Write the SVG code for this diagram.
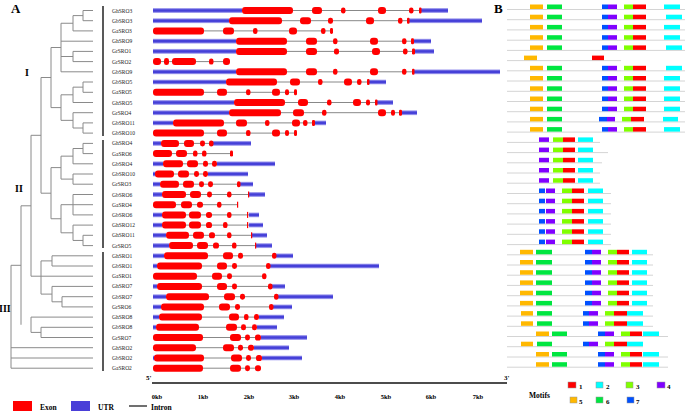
<svg xmlns="http://www.w3.org/2000/svg" width="685" height="413" viewBox="0 0 685 413">
<style>
.t{fill:none;stroke:#8a8a8a;stroke-width:1}
.bar{stroke:#222;stroke-width:1.5}
.lb{font-family:"Liberation Serif",serif;font-size:5.5px;fill:#222}
.hd{font-family:"Liberation Serif",serif;font-weight:bold;fill:#000}
.i{stroke:#888;stroke-width:1}
.u{fill:url(#ug)}
.e{fill:#ff0000}
.ml{stroke:#d4d4d4;stroke-width:1}
.m1{fill:#ff0000}.m2{fill:#00ffff}.m3{fill:#80ff00}.m4{fill:#8000ff}.m5{fill:#ffb800}.m6{fill:#00e640}.m7{fill:#0050ff}
</style>
<defs>
<linearGradient id="ug" x1="0" y1="0" x2="0" y2="1">
<stop offset="0" stop-color="#c4c1f6"/><stop offset="0.35" stop-color="#4540d8"/><stop offset="0.65" stop-color="#4540d8"/><stop offset="1" stop-color="#c4c1f6"/>
</linearGradient>
</defs>
<rect width="685" height="413" fill="#fff"/>
<text class="hd" x="11" y="13" font-size="13">A</text>
<text class="hd" x="494" y="13" font-size="13">B</text>
<text class="hd" x="25" y="76" font-size="10">I</text>
<text class="hd" x="15" y="192" font-size="10">II</text>
<text class="hd" x="-1" y="312" font-size="10">III</text>
<g id="tree">
<path class="t" d="M83,10.5H93M83,20.7H93M83,10.5V20.7M73,15.6H83M73,30.9H93M73,15.6V30.9M61,23.25H73M61,41.2H93M73,51.4H93M73,61.6H93M73,51.4V61.6M61,56.5H73M61,71.8H93M61,23.25V71.8M51,47.5H61
M83,82H93M83,92.3H93M83,82V92.3M73,87.15H83M73,102.5H93M73,87.15V102.5M61,94.8H73M73,112.7H93M83,122.9H93M83,133.1H93M83,122.9V133.1M73,128H83M73,112.7V128M61,120.35H73M61,94.8V120.35M51,107.6H61M51,47.5V107.6M41,77.5H51
M83,143.4H93M83,153.6H93M83,143.4V153.6M73,148.5H83M73,163.8H93M73,148.5V163.8M61,156.15H73M73,174H93M73,184.2H93M73,174V184.2M61,179.1H73M61,156.15V179.1M51,167.6H61
M73,194.5H93M61,204.7H93M73,214.9H93M73,194.5V214.9M73,225.1H93M83,235.3H93M83,245.6H93M83,235.3V245.6M73,240.45H83M73,225.1V240.45M61,232.8H73M61,204.7V232.8M51,218.75H61M51,167.6V218.75M41,193.2H51M41,77.5V193.2M31,135.3H41
M52,255.8H93M52,266H93M52,255.8V266M41,260.9H52M31,276.2H93M52,286.4H93M62,296.7H93M62,306.9H93M62,296.7V306.9M52,301.8H62M52,286.4V301.8M41,294.1H52M41,260.9V294.1M31,135.3V276.2M21,205.8H31
M31,317.1H93M41,327.3H93M41,337.5H93M41,327.3V337.5M31,332.4H41M31,317.1V332.4M21,205.8V324.75M11,265.3H21M11,347.7H93M11,358H93M11,368.2H93M11,265.3V368.2"/>
<line class="bar" x1="103" y1="6" x2="103" y2="136"/>
<line class="bar" x1="103" y1="140" x2="103" y2="248"/>
<line class="bar" x1="103" y1="252" x2="103" y2="371"/>
</g>
<g id="labels">
<text class="lb" x="112" y="12.5">GhSRO3</text>
<text class="lb" x="112" y="22.7">GbSRO3</text>
<text class="lb" x="112" y="32.9">GaSRO3</text>
<text class="lb" x="112" y="43.2">GhSRO9</text>
<text class="lb" x="112" y="53.4">GrSRO1</text>
<text class="lb" x="112" y="63.6">GrSRO2</text>
<text class="lb" x="112" y="73.8">GbSRO9</text>
<text class="lb" x="112" y="84">GbSRO5</text>
<text class="lb" x="112" y="94.3">GaSRO5</text>
<text class="lb" x="112" y="104.5">GhSRO5</text>
<text class="lb" x="112" y="114.7">GrSRO4</text>
<text class="lb" x="112" y="124.9">GbSRO11</text>
<text class="lb" x="112" y="135.1">GbSRO10</text>
<text class="lb" x="112" y="145.4">GhSRO4</text>
<text class="lb" x="112" y="155.6">GaSRO6</text>
<text class="lb" x="112" y="165.8">GbSRO4</text>
<text class="lb" x="112" y="176">GbSRO10</text>
<text class="lb" x="112" y="186.2">GrSRO3</text>
<text class="lb" x="112" y="196.5">GbSRO6</text>
<text class="lb" x="112" y="206.7">GaSRO4</text>
<text class="lb" x="112" y="216.9">GbSRO6</text>
<text class="lb" x="112" y="227.1">GhSRO12</text>
<text class="lb" x="112" y="237.3">GhSRO11</text>
<text class="lb" x="112" y="247.6">GrSRO5</text>
<text class="lb" x="112" y="257.8">GhSRO1</text>
<text class="lb" x="112" y="268">GbSRO1</text>
<text class="lb" x="112" y="278.2">GaSRO1</text>
<text class="lb" x="112" y="288.4">GhSRO7</text>
<text class="lb" x="112" y="298.7">GbSRO7</text>
<text class="lb" x="112" y="308.9">GrSRO6</text>
<text class="lb" x="112" y="319.1">GhSRO8</text>
<text class="lb" x="112" y="329.3">GbSRO8</text>
<text class="lb" x="112" y="339.5">GrSRO7</text>
<text class="lb" x="112" y="349.7">GhSRO2</text>
<text class="lb" x="112" y="360">GbSRO2</text>
<text class="lb" x="112" y="370.2">GaSRO2</text>
</g>
<g id="genes">
<g transform="translate(0,10.5)"><line class="i" x1="153" x2="448"/><rect class="u" x="153" y="-2.5" width="89" height="5"/><rect class="u" x="421" y="-2.5" width="27" height="5"/><rect class="e" x="242" y="-3.5" width="51" height="7" rx="3"/><rect class="e" x="312" y="-3.5" width="10" height="7" rx="3"/><rect class="e" x="341" y="-3" width="4.5" height="6" rx="2.2"/><rect class="e" x="378" y="-3.5" width="8" height="7" rx="3"/><rect class="e" x="409" y="-3" width="4.5" height="6" rx="2.2"/><rect class="e" x="419" y="-3" width="2.5" height="6" rx="1"/></g>
<g transform="translate(0,20.7)"><line class="i" x1="153" x2="482"/><rect class="u" x="153" y="-2.5" width="76" height="5"/><rect class="u" x="409" y="-2.5" width="73" height="5"/><rect class="e" x="229" y="-3.5" width="53" height="7" rx="3"/><rect class="e" x="300" y="-3.5" width="11" height="7" rx="3"/><rect class="e" x="328" y="-3" width="5" height="6" rx="2.2"/><rect class="e" x="366" y="-3.5" width="8" height="7" rx="3"/><rect class="e" x="398" y="-3" width="4.5" height="6" rx="2.2"/><rect class="e" x="407" y="-3" width="2.5" height="6" rx="1"/></g>
<g transform="translate(0,30.9)"><line class="i" x1="153" x2="333"/><rect class="e" x="153" y="-3.5" width="51" height="7" rx="3"/><rect class="e" x="223" y="-3.5" width="11" height="7" rx="3"/><rect class="e" x="253" y="-3" width="4.5" height="6" rx="2.2"/><rect class="e" x="289" y="-3.5" width="8" height="7" rx="3"/><rect class="e" x="321" y="-3" width="4.5" height="6" rx="2.2"/><rect class="e" x="330" y="-3" width="3" height="6" rx="1.4"/></g>
<g transform="translate(0,41.2)"><line class="i" x1="153" x2="431"/><rect class="u" x="153" y="-2.5" width="83" height="5"/><rect class="u" x="414" y="-2.5" width="17" height="5"/><rect class="e" x="236" y="-3.5" width="51" height="7" rx="3"/><rect class="e" x="306" y="-3.5" width="11" height="7" rx="3"/><rect class="e" x="333" y="-3" width="4.5" height="6" rx="2.2"/><rect class="e" x="370" y="-3.5" width="8" height="7" rx="3"/><rect class="e" x="402" y="-3" width="4.5" height="6" rx="2.2"/><rect class="e" x="411" y="-3" width="3" height="6" rx="1.2"/></g>
<g transform="translate(0,51.4)"><line class="i" x1="153" x2="434" stroke="#bbb"/><rect class="u" x="153" y="-2.5" width="83" height="5"/><rect class="u" x="415" y="-2.5" width="19" height="5"/><rect class="e" x="236" y="-3.5" width="51" height="7" rx="3"/><rect class="e" x="306" y="-3.5" width="11" height="7" rx="3"/><rect class="e" x="334" y="-3" width="5" height="6" rx="2.2"/><rect class="e" x="372" y="-3.5" width="8" height="7" rx="3"/><rect class="e" x="403" y="-3" width="4.5" height="6" rx="2.2"/><rect class="e" x="412" y="-3" width="3" height="6" rx="1.2"/></g>
<g transform="translate(0,61.6)"><line class="i" x1="153" x2="230"/><rect class="e" x="153" y="-3.5" width="8" height="7" rx="3"/><rect class="e" x="164" y="-3.5" width="5" height="7" rx="2.4"/><rect class="e" x="172" y="-3.5" width="24" height="7" rx="3"/><rect class="e" x="209" y="-3" width="4.5" height="6" rx="2.2"/><rect class="e" x="223" y="-3.5" width="7" height="7" rx="3"/></g>
<g transform="translate(0,71.8)"><line class="i" x1="153" x2="500"/><rect class="u" x="153" y="-2.5" width="83" height="5"/><rect class="u" x="414" y="-2.5" width="86" height="5"/><rect class="e" x="236" y="-3.5" width="51" height="7" rx="3"/><rect class="e" x="306" y="-3.5" width="11" height="7" rx="3"/><rect class="e" x="333" y="-3" width="4.5" height="6" rx="2.2"/><rect class="e" x="370" y="-3.5" width="8" height="7" rx="3"/><rect class="e" x="402" y="-3" width="4.5" height="6" rx="2.2"/><rect class="e" x="412" y="-3" width="2.5" height="6" rx="1"/></g>
<g transform="translate(0,82)"><line class="i" x1="153" x2="386"/><rect class="u" x="153" y="-2.5" width="73" height="5"/><rect class="u" x="369" y="-2.5" width="17" height="5"/><rect class="e" x="226" y="-3.5" width="51" height="7" rx="3"/><rect class="e" x="290" y="-3.5" width="10" height="7" rx="3"/><rect class="e" x="318" y="-3" width="4.5" height="6" rx="2.2"/><rect class="e" x="344" y="-3.5" width="8" height="7" rx="3"/><rect class="e" x="357" y="-3" width="4.5" height="6" rx="2.2"/><rect class="e" x="367" y="-3" width="2.5" height="6" rx="1"/></g>
<g transform="translate(0,92.3)"><line class="i" x1="153" x2="296" stroke="#bbb"/><rect class="e" x="153" y="-3.5" width="51" height="7" rx="3"/><rect class="e" x="217" y="-3.5" width="10" height="7" rx="3"/><rect class="e" x="246" y="-3" width="4.5" height="6" rx="2.2"/><rect class="e" x="272" y="-3.5" width="8" height="7" rx="3"/><rect class="e" x="285" y="-3" width="4" height="6" rx="2"/><rect class="e" x="294" y="-3" width="3" height="6" rx="1.4"/></g>
<g transform="translate(0,102.5)"><line class="i" x1="153" x2="393" stroke="#bbb"/><rect class="u" x="153" y="-2.5" width="81" height="5"/><rect class="u" x="377" y="-2.5" width="16" height="5"/><rect class="e" x="234" y="-3.5" width="51" height="7" rx="3"/><rect class="e" x="298" y="-3.5" width="10" height="7" rx="3"/><rect class="e" x="327" y="-3" width="4.5" height="6" rx="2.2"/><rect class="e" x="353" y="-3.5" width="8" height="7" rx="3"/><rect class="e" x="366" y="-3" width="4" height="6" rx="2"/><rect class="e" x="375" y="-3" width="2.5" height="6" rx="1"/></g>
<g transform="translate(0,112.7)"><line class="i" x1="153" x2="417"/><rect class="u" x="153" y="-2.5" width="76" height="5"/><rect class="u" x="402" y="-2.5" width="15" height="5"/><rect class="e" x="229" y="-3.5" width="52" height="7" rx="3"/><rect class="e" x="293" y="-3.5" width="11" height="7" rx="3"/><rect class="e" x="322" y="-3" width="4.5" height="6" rx="2.2"/><rect class="e" x="378" y="-3.5" width="8" height="7" rx="3"/><rect class="e" x="391" y="-3" width="4" height="6" rx="2"/><rect class="e" x="399" y="-3" width="3" height="6" rx="1.2"/></g>
<g transform="translate(0,122.9)"><line class="i" x1="153" x2="326"/><rect class="u" x="153" y="-2.5" width="20" height="5"/><rect class="u" x="315" y="-2.5" width="11" height="5"/><rect class="e" x="173" y="-3.5" width="51" height="7" rx="3"/><rect class="e" x="236" y="-3.5" width="11" height="7" rx="3"/><rect class="e" x="265" y="-3" width="4.5" height="6" rx="2.2"/><rect class="e" x="292" y="-3.5" width="8" height="7" rx="3"/><rect class="e" x="303" y="-3" width="4.5" height="6" rx="2.2"/><rect class="e" x="312" y="-3" width="3" height="6" rx="1.2"/></g>
<g transform="translate(0,133.1)"><line class="i" x1="153" x2="296" stroke="#bbb"/><rect class="e" x="153" y="-3.5" width="51" height="7" rx="3"/><rect class="e" x="217" y="-3.5" width="10" height="7" rx="3"/><rect class="e" x="246" y="-3" width="4.5" height="6" rx="2.2"/><rect class="e" x="272" y="-3.5" width="8" height="7" rx="3"/><rect class="e" x="285" y="-3" width="4" height="6" rx="2"/><rect class="e" x="294" y="-3" width="3" height="6" rx="1.4"/></g>
<g transform="translate(0,143.4)"><line class="i" x1="153" x2="251"/><rect class="u" x="153" y="-2.5" width="8" height="5"/><rect class="u" x="213" y="-2.5" width="38" height="5"/><rect class="e" x="161" y="-3.5" width="18" height="7" rx="3"/><rect class="e" x="184" y="-3.5" width="10" height="7" rx="3"/><rect class="e" x="200" y="-3" width="5" height="6" rx="2.4"/><rect class="e" x="209" y="-3" width="4.5" height="6" rx="2.2"/></g>
<g transform="translate(0,153.6)"><line class="i" x1="153" x2="233" stroke="#bbb"/><rect class="e" x="153" y="-3.5" width="19" height="7" rx="3"/><rect class="e" x="176" y="-3.5" width="11" height="7" rx="3"/><rect class="e" x="193" y="-3" width="4.5" height="6" rx="2.2"/><rect class="e" x="202" y="-3" width="4.5" height="6" rx="2.2"/><rect class="e" x="230" y="-3" width="3" height="6" rx="1.4"/></g>
<g transform="translate(0,163.8)"><line class="i" x1="153" x2="275"/><rect class="u" x="153" y="-2.5" width="10" height="5"/><rect class="u" x="217" y="-2.5" width="58" height="5"/><rect class="e" x="163" y="-3.5" width="20" height="7" rx="3"/><rect class="e" x="187" y="-3.5" width="11" height="7" rx="3"/><rect class="e" x="203" y="-3" width="5" height="6" rx="2.4"/><rect class="e" x="212" y="-3" width="5" height="6" rx="2.4"/></g>
<g transform="translate(0,174)"><line class="i" x1="153" x2="248"/><rect class="u" x="153" y="-2.5" width="3" height="5"/><rect class="u" x="208" y="-2.5" width="40" height="5"/><rect class="e" x="155" y="-3.5" width="19" height="7" rx="3"/><rect class="e" x="178" y="-3.5" width="11" height="7" rx="3"/><rect class="e" x="194" y="-3" width="5" height="6" rx="2.4"/><rect class="e" x="203" y="-3" width="5" height="6" rx="2.4"/></g>
<g transform="translate(0,184.2)"><line class="i" x1="153" x2="253"/><rect class="u" x="153" y="-2.5" width="7" height="5"/><rect class="u" x="240" y="-2.5" width="13" height="5"/><rect class="e" x="160" y="-3.5" width="19" height="7" rx="3"/><rect class="e" x="183" y="-3.5" width="11" height="7" rx="3"/><rect class="e" x="199" y="-3" width="5" height="6" rx="2.4"/><rect class="e" x="208" y="-3" width="5" height="6" rx="2.4"/><rect class="e" x="237" y="-3" width="3.5" height="6" rx="1.6"/></g>
<g transform="translate(0,194.5)"><line class="i" x1="153" x2="265"/><rect class="u" x="153" y="-2.5" width="9" height="5"/><rect class="u" x="249" y="-2.5" width="16" height="5"/><rect class="e" x="162" y="-3.5" width="24" height="7" rx="3"/><rect class="e" x="190" y="-3.5" width="11" height="7" rx="3"/><rect class="e" x="207" y="-3" width="5" height="6" rx="2.4"/><rect class="e" x="227" y="-3" width="4.5" height="6" rx="2.2"/><rect class="e" x="248" y="-3" width="1.2" height="6"/></g>
<g transform="translate(0,204.7)"><line class="i" x1="153" x2="238" stroke="#bbb"/><rect class="e" x="153" y="-3.5" width="23" height="7" rx="3"/><rect class="e" x="181" y="-3.5" width="11" height="7" rx="3"/><rect class="e" x="197" y="-3" width="6" height="6" rx="2.6"/><rect class="e" x="217" y="-3" width="4.5" height="6" rx="2.2"/><rect class="e" x="237" y="-3" width="1.2" height="6"/></g>
<g transform="translate(0,214.9)"><line class="i" x1="153" x2="259"/><rect class="u" x="153" y="-2.5" width="9" height="5"/><rect class="u" x="249" y="-2.5" width="10" height="5"/><rect class="e" x="162" y="-3.5" width="24" height="7" rx="3"/><rect class="e" x="189" y="-3.5" width="12" height="7" rx="3"/><rect class="e" x="206" y="-3" width="6" height="6" rx="2.6"/><rect class="e" x="227" y="-3" width="4.5" height="6" rx="2.2"/><rect class="e" x="247" y="-3" width="1.2" height="6"/></g>
<g transform="translate(0,225.1)"><line class="i" x1="153" x2="263"/><rect class="u" x="153" y="-2.5" width="9" height="5"/><rect class="u" x="249" y="-2.5" width="14" height="5"/><rect class="e" x="162" y="-3.5" width="24" height="7" rx="3"/><rect class="e" x="189" y="-3.5" width="12" height="7" rx="3"/><rect class="e" x="206" y="-3" width="6" height="6" rx="2.6"/><rect class="e" x="223" y="-3" width="4.5" height="6" rx="2.2"/><rect class="e" x="247" y="-3" width="1.2" height="6"/></g>
<g transform="translate(0,235.3)"><line class="i" x1="153" x2="267"/><rect class="u" x="153" y="-2.5" width="13" height="5"/><rect class="u" x="252" y="-2.5" width="15" height="5"/><rect class="e" x="166" y="-3.5" width="23" height="7" rx="3"/><rect class="e" x="193" y="-3.5" width="11" height="7" rx="3"/><rect class="e" x="209" y="-3" width="6" height="6" rx="2.6"/><rect class="e" x="227" y="-3" width="4.5" height="6" rx="2.2"/><rect class="e" x="251" y="-3" width="1.2" height="6"/></g>
<g transform="translate(0,245.6)"><line class="i" x1="153" x2="272"/><rect class="u" x="153" y="-2.5" width="16" height="5"/><rect class="u" x="256" y="-2.5" width="16" height="5"/><rect class="e" x="169" y="-3.5" width="24" height="7" rx="3"/><rect class="e" x="197" y="-3.5" width="11" height="7" rx="3"/><rect class="e" x="213" y="-3" width="6" height="6" rx="2.6"/><rect class="e" x="232" y="-3" width="4.5" height="6" rx="2.2"/><rect class="e" x="255" y="-3" width="1.2" height="6"/></g>
<g transform="translate(0,255.8)"><line class="i" x1="153" x2="293"/><rect class="u" x="153" y="-2.5" width="11" height="5"/><rect class="u" x="276" y="-2.5" width="17" height="5"/><rect class="e" x="164" y="-3.5" width="44" height="7" rx="3"/><rect class="e" x="223" y="-3.5" width="10" height="7" rx="3"/><rect class="e" x="238" y="-3" width="5" height="6" rx="2.4"/><rect class="e" x="272" y="-3" width="4.5" height="6" rx="2.2"/></g>
<g transform="translate(0,266)"><line class="i" x1="153" x2="379"/><rect class="u" x="153" y="-2.5" width="4" height="5"/><rect class="u" x="270" y="-2.5" width="109" height="5"/><rect class="e" x="157" y="-3.5" width="45" height="7" rx="3"/><rect class="e" x="217" y="-3.5" width="10" height="7" rx="3"/><rect class="e" x="232" y="-3" width="5" height="6" rx="2.4"/><rect class="e" x="266" y="-3" width="4.5" height="6" rx="2.2"/></g>
<g transform="translate(0,276.2)"><line class="i" x1="153" x2="266"/><rect class="e" x="153" y="-3.5" width="44" height="7" rx="3"/><rect class="e" x="212" y="-3.5" width="10" height="7" rx="3"/><rect class="e" x="227" y="-3" width="5" height="6" rx="2.4"/><rect class="e" x="262" y="-3" width="4.5" height="6" rx="2.2"/></g>
<g transform="translate(0,286.4)"><line class="i" x1="153" x2="285"/><rect class="u" x="153" y="-2.5" width="4" height="5"/><rect class="u" x="272" y="-2.5" width="13" height="5"/><rect class="e" x="157" y="-3.5" width="45" height="7" rx="3"/><rect class="e" x="217" y="-3.5" width="10" height="7" rx="3"/><rect class="e" x="232" y="-3" width="5" height="6" rx="2.4"/><rect class="e" x="268" y="-3" width="4.5" height="6" rx="2.2"/></g>
<g transform="translate(0,296.7)"><line class="i" x1="153" x2="333"/><rect class="u" x="153" y="-2.5" width="13" height="5"/><rect class="u" x="278" y="-2.5" width="55" height="5"/><rect class="e" x="166" y="-3.5" width="43" height="7" rx="3"/><rect class="e" x="224" y="-3.5" width="11" height="7" rx="3"/><rect class="e" x="240" y="-3" width="5" height="6" rx="2.4"/><rect class="e" x="274" y="-3" width="4.5" height="6" rx="2.2"/></g>
<g transform="translate(0,306.9)"><line class="i" x1="153" x2="292"/><rect class="u" x="153" y="-2.5" width="8" height="5"/><rect class="u" x="273" y="-2.5" width="19" height="5"/><rect class="e" x="161" y="-3.5" width="43" height="7" rx="3"/><rect class="e" x="219" y="-3.5" width="11" height="7" rx="3"/><rect class="e" x="235" y="-3" width="5" height="6" rx="2.4"/><rect class="e" x="269" y="-3" width="4.5" height="6" rx="2.2"/></g>
<g transform="translate(0,317.1)"><line class="i" x1="153" x2="284" stroke="#bbb"/><rect class="u" x="153" y="-2.5" width="6" height="5"/><rect class="u" x="259" y="-2.5" width="25" height="5"/><rect class="e" x="159" y="-3.5" width="43" height="7" rx="3"/><rect class="e" x="229" y="-3.5" width="10" height="7" rx="3"/><rect class="e" x="244" y="-3" width="4.5" height="6" rx="2.2"/><rect class="e" x="254" y="-3" width="5" height="6" rx="2.4"/></g>
<g transform="translate(0,327.3)"><line class="i" x1="153" x2="277"/><rect class="u" x="153" y="-2.5" width="3" height="5"/><rect class="u" x="257" y="-2.5" width="20" height="5"/><rect class="e" x="156" y="-3.5" width="43" height="7" rx="3"/><rect class="e" x="226" y="-3.5" width="11" height="7" rx="3"/><rect class="e" x="241" y="-3" width="5" height="6" rx="2.4"/><rect class="e" x="252" y="-3" width="5" height="6" rx="2.4"/></g>
<g transform="translate(0,337.5)"><line class="i" x1="153" x2="307"/><rect class="u" x="261" y="-2.5" width="46" height="5"/><rect class="e" x="153" y="-3.5" width="50" height="7" rx="3"/><rect class="e" x="230" y="-3.5" width="11" height="7" rx="3"/><rect class="e" x="245" y="-3" width="5" height="6" rx="2.4"/><rect class="e" x="255" y="-3" width="6" height="6" rx="2.6"/></g>
<g transform="translate(0,347.7)"><line class="i" x1="153" x2="289"/><rect class="u" x="254" y="-2.5" width="35" height="5"/><rect class="e" x="153" y="-3.5" width="43" height="7" rx="3"/><rect class="e" x="223" y="-3.5" width="11" height="7" rx="3"/><rect class="e" x="238" y="-3" width="5" height="6" rx="2.4"/><rect class="e" x="248" y="-3" width="6" height="6" rx="2.6"/></g>
<g transform="translate(0,358)"><line class="i" x1="153" x2="302"/><rect class="u" x="153" y="-2.5" width="2" height="5"/><rect class="u" x="262" y="-2.5" width="40" height="5"/><rect class="e" x="154" y="-3.5" width="50" height="7" rx="3"/><rect class="e" x="231" y="-3.5" width="11" height="7" rx="3"/><rect class="e" x="246" y="-3" width="5" height="6" rx="2.4"/><rect class="e" x="256" y="-3" width="6" height="6" rx="2.6"/></g>
<g transform="translate(0,368.2)"><line class="i" x1="153" x2="261" stroke="#bbb"/><rect class="e" x="153" y="-3.5" width="50" height="7" rx="3"/><rect class="e" x="230" y="-3.5" width="11" height="7" rx="3"/><rect class="e" x="245" y="-3" width="5" height="6" rx="2.4"/><rect class="e" x="255" y="-3" width="6" height="6" rx="2.6"/></g>
</g>
<g id="scale">
<line x1="152" y1="383" x2="507" y2="383" stroke="#111" stroke-width="1.5"/>
<text class="hd" x="146" y="380" font-size="7">5'</text>
<text class="hd" x="504" y="380" font-size="7">3'</text>
<g class="hd" font-size="6.5" text-anchor="middle">
<text x="157" y="399">0kb</text><text x="203" y="399">1kb</text><text x="249" y="399">2kb</text><text x="294" y="399">3kb</text><text x="340" y="399">4kb</text><text x="386" y="399">5kb</text><text x="431" y="399">6kb</text><text x="478" y="399">7kb</text>
</g>
</g>
<g id="legend-a">
<rect x="13" y="401" width="19" height="10" fill="#ff0000"/>
<text class="hd" x="40" y="410" font-size="7.5">Exon</text>
<rect x="71" y="401" width="19" height="10" fill="#4a3fd8"/>
<text class="hd" x="98" y="410" font-size="7.5">UTR</text>
<line x1="129" y1="406" x2="147" y2="406" stroke="#111" stroke-width="1.2"/>
<text class="hd" x="151" y="410" font-size="7.5">Intron</text>
</g>
<g id="motifs">
<g class="ml">
<line x1="507" y1="9.5" x2="685" y2="9.5"/><line x1="507" y1="19.7" x2="685" y2="19.7"/><line x1="507" y1="29.9" x2="685" y2="29.9"/><line x1="507" y1="40.2" x2="685" y2="40.2"/><line x1="507" y1="50.4" x2="685" y2="50.4"/><line x1="507" y1="60.6" x2="621" y2="60.6"/><line x1="507" y1="70.8" x2="685" y2="70.8"/><line x1="507" y1="81" x2="685" y2="81"/><line x1="507" y1="91.3" x2="685" y2="91.3"/><line x1="507" y1="101.5" x2="685" y2="101.5"/><line x1="507" y1="111.7" x2="685" y2="111.7"/><line x1="507" y1="121.9" x2="685" y2="121.9"/><line x1="507" y1="132.1" x2="685" y2="132.1"/>
<line x1="507" y1="142.4" x2="600" y2="142.4"/><line x1="507" y1="152.6" x2="608" y2="152.6"/><line x1="507" y1="162.8" x2="602" y2="162.8"/><line x1="507" y1="173" x2="600" y2="173"/><line x1="507" y1="183.2" x2="600" y2="183.2"/><line x1="507" y1="193.5" x2="611" y2="193.5"/><line x1="507" y1="203.7" x2="611" y2="203.7"/><line x1="507" y1="213.9" x2="611" y2="213.9"/><line x1="507" y1="224.1" x2="611" y2="224.1"/><line x1="507" y1="234.3" x2="611" y2="234.3"/><line x1="507" y1="244.6" x2="611" y2="244.6"/>
<line x1="507" y1="254.8" x2="653" y2="254.8"/><line x1="507" y1="265" x2="653" y2="265"/><line x1="507" y1="275.2" x2="653" y2="275.2"/><line x1="507" y1="285.4" x2="653" y2="285.4"/><line x1="507" y1="295.7" x2="653" y2="295.7"/><line x1="507" y1="305.9" x2="653" y2="305.9"/><line x1="507" y1="316.1" x2="653" y2="316.1"/><line x1="507" y1="326.3" x2="653" y2="326.3"/><line x1="507" y1="336.5" x2="668" y2="336.5"/><line x1="507" y1="346.7" x2="643" y2="346.7"/><line x1="507" y1="357" x2="668" y2="357"/><line x1="507" y1="367.2" x2="668" y2="367.2"/>
</g>
<defs>
<g id="mA"><rect class="m5" x="530" y="0" width="13" height="4.5"/><rect class="m6" x="547" y="0" width="15" height="4.5"/><rect class="m7" x="602" y="0" width="6" height="4.5"/><rect class="m4" x="608" y="0" width="9" height="4.5"/><rect class="m3" x="624" y="0" width="9" height="4.5"/><rect class="m1" x="633" y="0" width="13" height="4.5"/><rect class="m2" x="664" y="0" width="16" height="4.5"/></g>
<g id="mA2"><rect class="m5" x="530" y="0" width="13" height="4.5"/><rect class="m6" x="547" y="0" width="15" height="4.5"/><rect class="m7" x="602" y="0" width="6" height="4.5"/><rect class="m4" x="608" y="0" width="9" height="4.5"/><rect class="m3" x="624" y="0" width="9" height="4.5"/><rect class="m1" x="633" y="0" width="13" height="4.5"/><rect class="m2" x="666" y="0" width="16" height="4.5"/></g>
<g id="mB"><rect class="m4" x="539" y="0" width="10" height="4.5"/><rect class="m3" x="553" y="0" width="10" height="4.5"/><rect class="m1" x="563" y="0" width="12" height="4.5"/><rect class="m2" x="578" y="0" width="15" height="4.5"/></g>
<g id="mC"><rect class="m7" x="539" y="0" width="6" height="4.5"/><rect class="m4" x="546" y="0" width="9" height="4.5"/><rect class="m3" x="562" y="0" width="10" height="4.5"/><rect class="m1" x="572" y="0" width="12" height="4.5"/><rect class="m2" x="588" y="0" width="15" height="4.5"/></g>
<g id="mD"><rect class="m5" x="520" y="0" width="13" height="4.5"/><rect class="m6" x="536" y="0" width="16" height="4.5"/><rect class="m7" x="585" y="0" width="7" height="4.5"/><rect class="m4" x="592" y="0" width="9" height="4.5"/><rect class="m3" x="608" y="0" width="9" height="4.5"/><rect class="m1" x="617" y="0" width="12" height="4.5"/><rect class="m2" x="632" y="0" width="15" height="4.5"/></g>
<g id="mE"><rect class="m5" x="521" y="0" width="12" height="4.5"/><rect class="m6" x="537" y="0" width="15" height="4.5"/><rect class="m7" x="583" y="0" width="6" height="4.5"/><rect class="m4" x="589" y="0" width="9" height="4.5"/><rect class="m3" x="605" y="0" width="9" height="4.5"/><rect class="m1" x="614" y="0" width="13" height="4.5"/><rect class="m2" x="627" y="0" width="16" height="4.5"/></g>
<g id="mF"><rect class="m5" x="536" y="0" width="13" height="4.5"/><rect class="m6" x="552" y="0" width="15" height="4.5"/><rect class="m7" x="598" y="0" width="7" height="4.5"/><rect class="m4" x="605" y="0" width="9" height="4.5"/><rect class="m3" x="621" y="0" width="9" height="4.5"/><rect class="m1" x="630" y="0" width="12" height="4.5"/><rect class="m2" x="643" y="0" width="16" height="4.5"/></g>
</defs>
<use href="#mA" y="4.5"/><use href="#mA2" y="14.7"/><use href="#mA" y="24.9"/><use href="#mA" y="35.2"/><use href="#mA2" y="45.4"/>
<rect class="m5" x="524" y="55.6" width="13" height="4.5"/><rect class="m1" x="592" y="55.6" width="12" height="4.5"/>
<use href="#mA2" y="65.8"/><use href="#mA" y="76"/><use href="#mA" y="86.3"/><use href="#mA" y="96.5"/><use href="#mA" y="106.7"/>
<g transform="translate(0,116.9)"><rect class="m5" x="530" y="0" width="13" height="4.5"/><rect class="m6" x="547" y="0" width="15" height="4.5"/><rect class="m7" x="599" y="0" width="8" height="4.5"/><rect class="m4" x="607" y="0" width="8" height="4.5"/><rect class="m3" x="622" y="0" width="9" height="4.5"/><rect class="m1" x="631" y="0" width="13" height="4.5"/><rect class="m2" x="663" y="0" width="15" height="4.5"/></g>
<use href="#mA" y="127.1"/>
<use href="#mB" y="137.4"/><use href="#mB" y="147.6"/><use href="#mB" y="157.8"/><use href="#mB" y="168"/><use href="#mB" y="178.2"/>
<use href="#mC" y="188.5"/><use href="#mC" y="198.7"/><use href="#mC" y="208.9"/><use href="#mC" y="219.1"/><use href="#mC" y="229.3"/><use href="#mC" y="239.6"/>
<use href="#mD" y="249.8"/><use href="#mD" y="260"/><use href="#mD" y="270.2"/><use href="#mD" y="280.4"/><use href="#mD" y="290.7"/><use href="#mD" y="300.9"/>
<use href="#mE" y="311.1"/><use href="#mE" y="321.3"/><use href="#mF" y="331.5"/><use href="#mE" y="341.7"/><use href="#mF" y="352"/><use href="#mF" y="362.2"/>
</g>
<g id="legend-b">
<text class="hd" x="529" y="398" font-size="7.5">Motifs</text>
<g stroke="#999" stroke-width="0.5">
<rect class="m1" x="568" y="382" width="8" height="6"/><rect class="m2" x="596" y="382" width="7" height="6"/><rect class="m3" x="626" y="382" width="7" height="6"/><rect class="m4" x="657" y="382" width="8" height="6"/>
<rect class="m5" x="570" y="397" width="7" height="6"/><rect class="m6" x="596" y="397" width="7" height="6"/><rect class="m7" x="627" y="397" width="7" height="6"/>
</g>
<g class="hd" font-size="7">
<text x="579" y="389">1</text><text x="606" y="389">2</text><text x="636" y="389">3</text><text x="667" y="389">4</text>
<text x="579" y="404">5</text><text x="606" y="404">6</text><text x="636" y="404">7</text>
</g>
</g>
</svg>
